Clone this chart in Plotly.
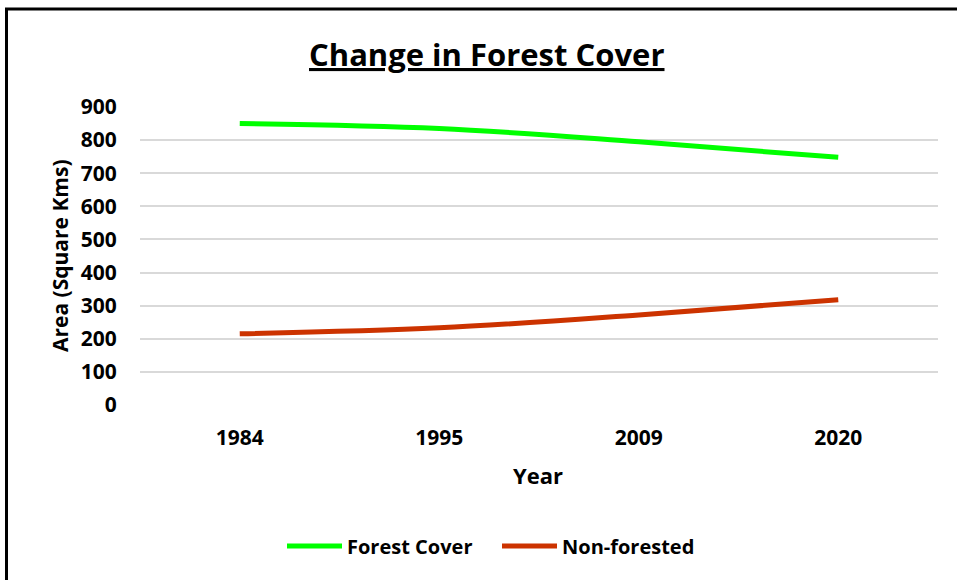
import plotly.graph_objects as go

years = ["1984", "1995", "2009", "2020"]
forest_cover = [850, 835, 795, 748]
non_forested = [215, 233, 272, 318]
y_ticks = [0, 100, 200, 300, 400, 500, 600, 700, 800, 900]

FONT = "Open Sans"
W, H = 957, 580
L, R, T, B = 140, 19, 107, 175
pw = W - L - R
ph = H - T - B

def px_x(x):
    return (x - L) / pw

def px_y(y):
    return (H - B - y) / ph

fig = go.Figure()
fig.add_trace(go.Scatter(x=years, y=forest_cover, name="Forest Cover", mode="lines",
                         line=dict(color="#00FF00", width=5, shape="spline")))
fig.add_trace(go.Scatter(x=years, y=non_forested, name="Non-forested", mode="lines",
                         line=dict(color="#CC3300", width=5, shape="spline")))

fig.update_layout(
    width=W, height=H,
    margin=dict(l=L, r=R, t=T, b=B),
    paper_bgcolor="white", plot_bgcolor="white",
    font=dict(family=FONT, color="black", size=20),
    showlegend=True,
    legend=dict(orientation="h", x=px_x(282), y=px_y(546), xanchor="left", yanchor="middle",
                font=dict(family=FONT, size=20, color="black", weight="bold"),
                itemwidth=55, entrywidth=145, entrywidthmode="pixels",
                tracegroupgap=0, bgcolor="rgba(0,0,0,0)"),
    xaxis=dict(type="category", range=[-0.5, 3.5], showgrid=False, zeroline=False, showline=False,
               ticks="outside", ticklen=14, tickcolor="rgba(0,0,0,0)",
               tickfont=dict(family=FONT, size=21, color="black", weight="bold")),
    yaxis=dict(range=[0, 900], tickvals=y_ticks, showgrid=True, gridcolor="#d9d9d9", gridwidth=1.5,
               zeroline=False, showline=False,
               ticks="outside", ticklen=18, tickcolor="rgba(0,0,0,0)",
               tickfont=dict(family=FONT, size=21, color="black", weight="bold")),
)

fig.add_annotation(text="<b><u>Change in Forest Cover</u></b>", xref="paper", yref="paper",
                   x=px_x(487), y=px_y(54), xanchor="center", yanchor="middle", showarrow=False,
                   font=dict(family=FONT, size=31, color="black"))
fig.add_annotation(text="<b>Year</b>", xref="paper", yref="paper",
                   x=px_x(538), y=px_y(475), xanchor="center", yanchor="middle", showarrow=False,
                   font=dict(family=FONT, size=22, color="black"))
fig.add_annotation(text="<b>Area (Square Kms)</b>", xref="paper", yref="paper",
                   x=px_x(60), y=px_y(256), xanchor="center", yanchor="middle", showarrow=False,
                   textangle=-90, font=dict(family=FONT, size=21, color="black"))

fig.add_shape(type="rect", xref="paper", yref="paper",
              x0=px_x(6.5), x1=px_x(965), y0=px_y(590), y1=px_y(9),
              line=dict(color="black", width=3), fillcolor="rgba(0,0,0,0)", layer="above")

fig.write_html("out.html")
